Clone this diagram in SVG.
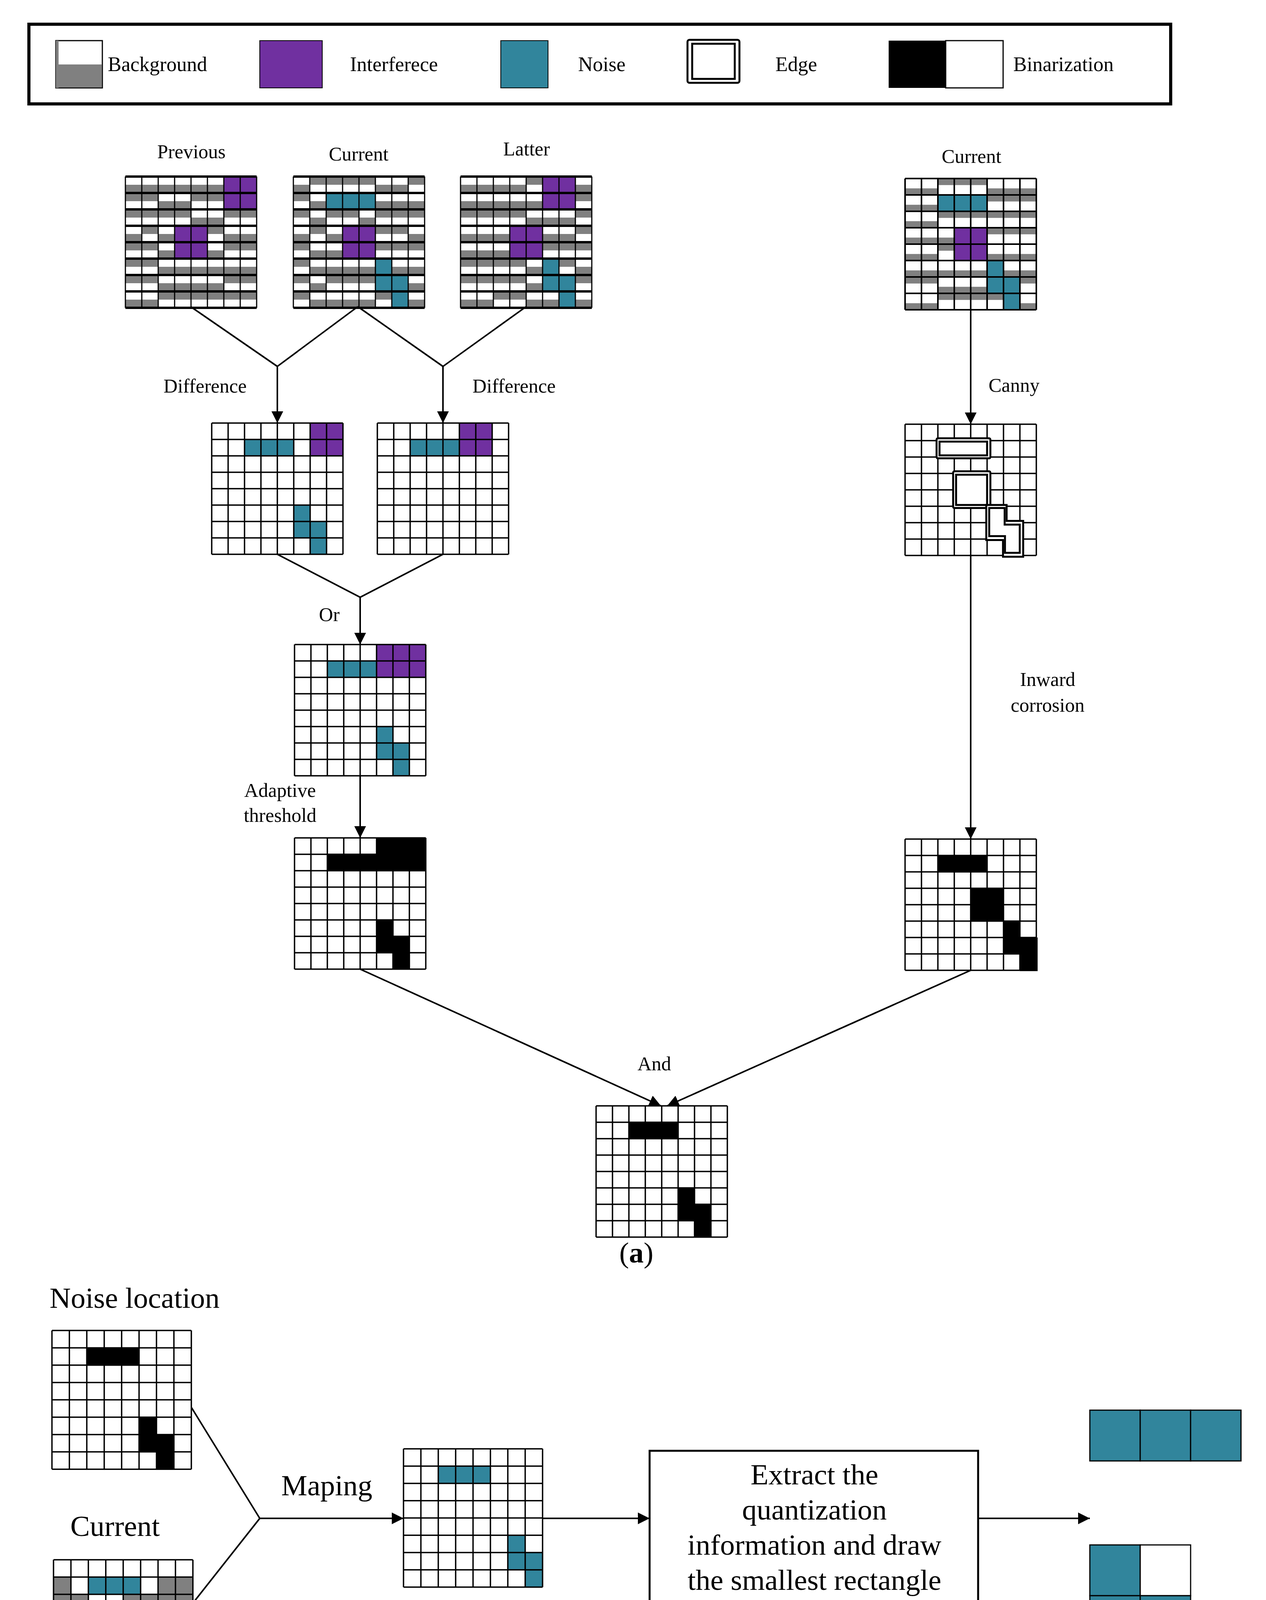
<svg xmlns="http://www.w3.org/2000/svg" xmlns:xlink="http://www.w3.org/1999/xlink" width="3241" height="4520" viewBox="0 0 3241 4520">
<style>
.g{fill:#808080}.p{fill:#7030A0}.n{fill:#31859C}.k{fill:#000}
.gl{fill:none;stroke:#000;vector-effect:non-scaling-stroke}
.ln{fill:none;stroke:#000;stroke-width:4}
.ar{marker-end:url(#ah)}
text{font-family:"Liberation Serif","DejaVu Serif",serif;fill:#000}
.t{font-size:50px;text-anchor:middle}
.lg{font-size:52px}
.b{font-size:75px}
.e{fill:#fff;stroke:#000;stroke-width:5;vector-effect:non-scaling-stroke}
</style>
<defs>
<marker id="ah" markerUnits="userSpaceOnUse" markerWidth="30" markerHeight="30" refX="30" refY="15" orient="auto"><path d="M0,0L30,15L0,30z" fill="#000"/></marker>
<path id="gv" class="gl" d="M0 0V8M1 0V8M2 0V8M3 0V8M4 0V8M5 0V8M6 0V8M7 0V8M8 0V8"/>
<path id="gh" class="gl" d="M0 0H8M0 1H8M0 2H8M0 3H8M0 4H8M0 5H8M0 6H8M0 7H8M0 8H8"/>
</defs>
<rect width="3241" height="4520" fill="#fff"/>

<g id="legend">
<rect x="74" y="62" width="2923" height="204" fill="none" stroke="#000" stroke-width="8"/>
<rect x="143" y="104" width="119" height="121" fill="#fff" stroke="#000" stroke-width="3"/>
<rect x="145" y="165" width="116" height="59" class="g"/>
<rect x="143" y="104" width="7" height="121" class="g"/>
<text x="276" y="182" class="lg">Background</text>
<rect x="665" y="104" width="160" height="121" class="p" stroke="#000" stroke-width="2"/>
<text x="896" y="182" class="lg">Interferece</text>
<rect x="1282" y="104" width="121" height="121" class="n" stroke="#000" stroke-width="2"/>
<text x="1480" y="182" class="lg">Noise</text>
<rect x="1760" y="102" width="133" height="110" rx="5" fill="#fff" stroke="#000" stroke-width="5"/>
<rect x="1772" y="112" width="109" height="90" fill="#fff" stroke="#000" stroke-width="5"/>
<text x="1985" y="182" class="lg">Edge</text>
<rect x="2275" y="104" width="146" height="121" class="k"/>
<rect x="2421" y="104" width="147" height="121" fill="#fff" stroke="#000" stroke-width="3"/>
<text x="2594" y="182" class="lg">Binarization</text>
</g>

<g id="labels">
<text x="490" y="405" class="t">Previous</text>
<text x="918" y="411" class="t">Current</text>
<text x="1348" y="398" class="t">Latter</text>
<text x="2487" y="417" class="t">Current</text>
<text x="525" y="1005" class="t">Difference</text>
<text x="1316" y="1005" class="t">Difference</text>
<text x="2596" y="1003" class="t">Canny</text>
<text x="843" y="1590" class="t">Or</text>
<text x="717" y="2040" class="t">Adaptive</text>
<text x="717" y="2104" class="t">threshold</text>
<text x="2682" y="1756" class="t">Inward</text>
<text x="2682" y="1822" class="t">corrosion</text>
<text x="1675" y="2740" class="t">And</text>
<text x="1629" y="3232" class="b" text-anchor="middle">(<tspan font-weight="bold">a</tspan>)</text>
<text x="127" y="3348" class="b">Noise location</text>
<text x="180" y="3932" class="b">Current</text>
<text x="720" y="3828" class="b">Maping</text>
<text x="1629" y="4436" class="b" text-anchor="middle">(<tspan font-weight="bold">b</tspan>)</text>
</g>

<g id="previous" transform="translate(321,452) scale(42)">
<rect class="g" x="0" y="0.5" width="6" height="0.5"/>
<rect class="p" x="6" y="0" width="2" height="2"/>
<rect class="g" x="0" y="1" width="2" height="0.5"/><rect class="g" x="2" y="1.5" width="2" height="0.5"/><rect class="g" x="4" y="1" width="2" height="0.5"/>
<rect class="g" x="0" y="2" width="4" height="0.5"/><rect class="g" x="4" y="2.5" width="2" height="0.5"/><rect class="g" x="6" y="2" width="2" height="0.5"/>
<rect class="g" x="0" y="3.5" width="1" height="0.5"/><rect class="g" x="1" y="3" width="1" height="0.5"/><rect class="g" x="2" y="3.5" width="1" height="0.5"/><rect class="p" x="3" y="3" width="2" height="2"/><rect class="g" x="5" y="3" width="1" height="0.5"/><rect class="g" x="6" y="3.5" width="2" height="0.5"/>
<rect class="g" x="0" y="4" width="2" height="0.5"/><rect class="g" x="2" y="4.5" width="1" height="0.5"/><rect class="g" x="5" y="4.5" width="1" height="0.5"/><rect class="g" x="6" y="4" width="2" height="0.5"/>
<rect class="g" x="0" y="5" width="2" height="0.5"/><rect class="g" x="2" y="5.5" width="6" height="0.5"/>
<rect class="g" x="0" y="6" width="2" height="0.5"/><rect class="g" x="2" y="6.5" width="4" height="0.5"/><rect class="g" x="6" y="6" width="2" height="0.5"/>
<rect class="g" x="0" y="7.5" width="2" height="0.5"/><rect class="g" x="2" y="7" width="6" height="0.5"/>
<use href="#gv" stroke-width="3"/><use href="#gh" stroke-width="6"/>
</g>

<g id="current1" transform="translate(751,452) scale(42)">
<rect class="g" x="0" y="0.5" width="1" height="0.5"/><rect class="g" x="1" y="0" width="4" height="0.5"/><rect class="g" x="5" y="0.5" width="2" height="0.5"/><rect class="g" x="7" y="0" width="1" height="0.5"/>
<rect class="g" x="0" y="1" width="1" height="0.5"/><rect class="g" x="1" y="1.5" width="1" height="0.5"/><rect class="n" x="2" y="1" width="3" height="1"/><rect class="g" x="5" y="1.5" width="3" height="0.5"/>
<rect class="g" x="0" y="2" width="1" height="0.5"/><rect class="g" x="1" y="2.5" width="1" height="0.5"/><rect class="g" x="2" y="2" width="2" height="0.5"/><rect class="g" x="4" y="2.5" width="1" height="0.5"/><rect class="g" x="5" y="2" width="3" height="0.5"/>
<rect class="g" x="0" y="3.5" width="1" height="0.5"/><rect class="g" x="1" y="3" width="1" height="0.5"/><rect class="g" x="2" y="3.5" width="1" height="0.5"/><rect class="p" x="3" y="3" width="2" height="2"/><rect class="g" x="5" y="3" width="2" height="0.5"/><rect class="g" x="7" y="3.5" width="1" height="0.5"/>
<rect class="g" x="0" y="4" width="1" height="0.5"/><rect class="g" x="1" y="4.5" width="2" height="0.5"/><rect class="g" x="5" y="4" width="3" height="0.5"/>
<rect class="g" x="0" y="5" width="1" height="0.5"/><rect class="g" x="1" y="5.5" width="4" height="0.5"/><rect class="n" x="5" y="5" width="1" height="2"/><rect class="g" x="6" y="5.5" width="2" height="0.5"/>
<rect class="g" x="0" y="6" width="1" height="0.5"/><rect class="g" x="1" y="6.5" width="1" height="0.5"/><rect class="g" x="2" y="6" width="3" height="0.5"/><rect class="n" x="6" y="6" width="1" height="2"/><rect class="g" x="7" y="6.5" width="1" height="0.5"/>
<rect class="g" x="0" y="7" width="1" height="0.5"/><rect class="g" x="1" y="7.5" width="4" height="0.5"/><rect class="g" x="5" y="7" width="1" height="0.5"/><rect class="g" x="7" y="7.5" width="1" height="0.5"/>
<use href="#gv" stroke-width="3"/><use href="#gh" stroke-width="6"/>
</g>

<g id="latter" transform="translate(1179,452) scale(42)">
<rect class="g" x="0" y="0.5" width="4" height="0.5"/><rect class="g" x="4" y="0" width="1" height="0.5"/><rect class="p" x="5" y="0" width="2" height="2"/><rect class="g" x="7" y="0.5" width="1" height="0.5"/>
<rect class="g" x="0" y="1.5" width="5" height="0.5"/><rect class="g" x="7" y="1" width="1" height="0.5"/>
<rect class="g" x="0" y="2" width="4" height="0.5"/><rect class="g" x="4" y="2.5" width="3" height="0.5"/><rect class="g" x="7" y="2" width="1" height="0.5"/>
<rect class="g" x="0" y="3.5" width="3" height="0.5"/><rect class="p" x="3" y="3" width="2" height="2"/><rect class="g" x="5" y="3.5" width="2" height="0.5"/><rect class="g" x="7" y="3" width="1" height="0.5"/>
<rect class="g" x="0" y="4.5" width="3" height="0.5"/><rect class="g" x="5" y="4" width="3" height="0.5"/>
<rect class="g" x="0" y="5" width="4" height="0.5"/><rect class="g" x="4" y="5.5" width="1" height="0.5"/><rect class="n" x="5" y="5" width="1" height="2"/><rect class="g" x="6" y="5" width="1" height="0.5"/><rect class="g" x="7" y="5.5" width="1" height="0.5"/>
<rect class="g" x="0" y="6" width="4" height="0.5"/><rect class="g" x="4" y="6.5" width="1" height="0.5"/><rect class="n" x="6" y="6" width="1" height="2"/><rect class="g" x="7" y="6" width="1" height="0.5"/>
<rect class="g" x="0" y="7.5" width="2" height="0.5"/><rect class="g" x="2" y="7" width="2" height="0.5"/><rect class="g" x="4" y="7.5" width="2" height="0.5"/><rect class="g" x="7" y="7.5" width="1" height="0.5"/>
<use href="#gv" stroke-width="3"/><use href="#gh" stroke-width="6"/>
</g>

<g id="current-right" transform="translate(2317,457) scale(42)">
<rect class="g" x="0" y="0.6" width="2" height="0.4"/><rect class="g" x="2" y="0" width="3" height="0.4"/><rect class="g" x="5" y="0.6" width="3" height="0.4"/>
<rect class="g" x="0" y="1.6" width="2" height="0.4"/><rect class="n" x="2" y="1" width="3" height="1"/><rect class="g" x="5" y="1" width="3" height="0.4"/>
<rect class="g" x="0" y="2.6" width="2" height="0.4"/><rect class="g" x="2" y="2" width="6" height="0.4"/>
<rect class="g" x="0" y="3.6" width="3" height="0.4"/><rect class="p" x="3" y="3" width="2" height="2"/><rect class="g" x="5" y="3" width="3" height="0.4"/>
<rect class="g" x="0" y="4.6" width="2" height="0.4"/><rect class="g" x="2" y="4" width="1" height="0.4"/><rect class="g" x="5" y="4.6" width="3" height="0.4"/>
<rect class="g" x="0" y="5.6" width="5" height="0.4"/><rect class="n" x="5" y="5" width="1" height="2"/><rect class="g" x="6" y="5.6" width="2" height="0.4"/>
<rect class="g" x="0" y="6" width="2" height="0.4"/><rect class="g" x="2" y="6.6" width="3" height="0.4"/><rect class="n" x="6" y="6" width="1" height="2"/><rect class="g" x="7" y="6" width="1" height="0.4"/>
<rect class="g" x="0" y="7.6" width="2" height="0.4"/><rect class="g" x="2" y="7" width="4" height="0.4"/><rect class="g" x="7" y="7.6" width="1" height="0.4"/>
<use href="#gv" stroke-width="4"/><use href="#gh" stroke-width="4"/>
</g>

<g id="diff1" transform="translate(542,1083) scale(42)">
<rect class="p" x="6" y="0" width="2" height="2"/><rect class="n" x="2" y="1" width="3" height="1"/>
<rect class="n" x="5" y="5" width="1" height="2"/><rect class="n" x="6" y="6" width="1" height="2"/>
<use href="#gv" stroke-width="3.5"/><use href="#gh" stroke-width="3.5"/>
</g>
<g id="diff2" transform="translate(966,1083) scale(42)">
<rect class="p" x="5" y="0" width="2" height="2"/><rect class="n" x="2" y="1" width="3" height="1"/>
<use href="#gv" stroke-width="3.5"/><use href="#gh" stroke-width="3.5"/>
</g>
<g id="or" transform="translate(754,1650) scale(42)">
<rect class="p" x="5" y="0" width="3" height="2"/><rect class="n" x="2" y="1" width="3" height="1"/>
<rect class="n" x="5" y="5" width="1" height="2"/><rect class="n" x="6" y="6" width="1" height="2"/>
<use href="#gv" stroke-width="3.5"/><use href="#gh" stroke-width="3.5"/>
</g>
<g id="threshold" transform="translate(754,2145) scale(42)">
<rect class="k" x="5" y="0" width="3" height="2"/><rect class="k" x="2" y="1" width="3" height="1"/>
<rect class="k" x="5" y="5" width="1" height="2"/><rect class="k" x="6" y="6" width="1" height="2"/>
<use href="#gv" stroke-width="3.5"/><use href="#gh" stroke-width="3.5"/>
</g>
<g id="canny" transform="translate(2317,1086) scale(42)">
<use href="#gv" stroke-width="3.5"/><use href="#gh" stroke-width="3.5"/>
<rect class="e" x="1.92" y="0.86" width="3.28" height="1.22" rx="0.08"/>
<rect class="e" x="2.1" y="1.06" width="2.9" height="0.84"/>
<rect class="e" x="2.93" y="2.87" width="2.27" height="2.24" rx="0.08"/>
<rect class="e" x="3.11" y="3.08" width="1.89" height="1.84"/>
<path class="e" d="M4.95 4.92H6.19V5.89H7.2V8.08H5.97V7.06H4.95Z"/>
<path class="e" d="M5.13 5.11H6.07V6.12H6.99V7.84H6.09V6.82H5.13Z"/>
</g>
<g id="inward" transform="translate(2317,2148) scale(42)">
<rect class="k" x="2" y="1" width="3" height="1"/><rect class="k" x="4" y="3" width="2" height="2"/>
<rect class="k" x="6" y="5" width="1" height="2"/><rect class="k" x="7" y="6" width="1.08" height="2.05"/>
<use href="#gv" stroke-width="3.5"/><use href="#gh" stroke-width="3.5"/>
</g>
<g id="and" transform="translate(1526,2831) scale(42)">
<rect class="k" x="2" y="1" width="3" height="1"/>
<rect class="k" x="5" y="5" width="1" height="2"/><rect class="k" x="6" y="6" width="1" height="2"/>
<use href="#gv" stroke-width="3.5"/><use href="#gh" stroke-width="3.5"/>
</g>

<g id="noise-location" transform="translate(133,3406) scale(44.6,44.4)">
<rect class="k" x="2" y="1" width="3" height="1"/>
<rect class="k" x="5" y="5" width="1" height="2"/><rect class="k" x="6" y="6" width="1" height="2"/>
<use href="#gv" stroke-width="3.5"/><use href="#gh" stroke-width="3.5"/>
</g>
<g id="current-b" transform="translate(137,3993) scale(44.6,44.3)">
<rect class="g" x="0" y="1" width="1" height="1"/><rect class="n" x="2" y="1" width="3" height="1"/><rect class="g" x="6" y="1" width="2" height="1"/>
<rect class="g" x="0" y="2" width="2" height="1"/><rect class="g" x="4" y="2" width="4" height="1"/>
<rect class="g" x="2" y="3" width="1" height="1"/><rect class="p" x="3" y="3" width="2" height="2"/><rect class="g" x="5" y="3" width="3" height="2"/>
<rect class="g" x="1" y="4" width="2" height="1"/>
<rect class="n" x="5" y="5" width="1" height="2"/><rect class="g" x="6" y="5" width="2" height="1"/>
<rect class="g" x="0" y="6" width="4" height="1"/><rect class="n" x="6" y="6" width="1" height="2"/>
<rect class="g" x="0" y="7" width="6" height="1"/>
<use href="#gv" stroke-width="3.5"/><use href="#gh" stroke-width="3.5"/>
</g>
<g id="mapped" transform="translate(1033,3709) scale(44.5,44.25)">
<rect class="n" x="2" y="1" width="3" height="1"/>
<rect class="n" x="6" y="5" width="1" height="2"/><rect class="n" x="7" y="6" width="1" height="2"/>
<use href="#gv" stroke-width="3.5"/><use href="#gh" stroke-width="3.5"/>
</g>

<g id="extract-box">
<rect x="1663" y="3714" width="841" height="391" fill="#fff" stroke="#000" stroke-width="5"/>
<text x="2085" y="3800" class="b" text-anchor="middle">Extract the</text>
<text x="2085" y="3890" class="b" text-anchor="middle">quantization</text>
<text x="2085" y="3980" class="b" text-anchor="middle">information and draw</text>
<text x="2085" y="4070" class="b" text-anchor="middle">the smallest rectangle</text>
</g>

<g id="output-bar" stroke="#000" stroke-width="3">
<rect class="n" x="2790" y="3610" width="129" height="130"/>
<rect class="n" x="2919" y="3610" width="129" height="130"/>
<rect class="n" x="3048" y="3610" width="129" height="130"/>
</g>
<g id="output-shape" stroke="#000" stroke-width="3">
<rect class="n" x="2790" y="3955" width="129" height="130"/><rect fill="#fff" x="2919" y="3955" width="129" height="130"/>
<rect class="n" x="2790" y="4085" width="129" height="130"/><rect class="n" x="2919" y="4085" width="129" height="130"/>
<rect fill="#fff" x="2790" y="4215" width="129" height="130"/><rect class="n" x="2919" y="4215" width="129" height="130"/>
</g>

<g id="connectors">
<path class="ln" d="M488 785L710 938M916 785L710 938M916 785L1134 938M1347 785L1134 938"/>
<path class="ln ar" d="M710 938V1083"/>
<path class="ln ar" d="M1134 938V1083"/>
<path class="ln" d="M710 1419L922 1529M1134 1419L922 1529"/>
<path class="ln ar" d="M922 1529V1650"/>
<path class="ln ar" d="M922 1986V2145"/>
<path class="ln ar" d="M922 2481L1692 2831"/>
<path class="ln ar" d="M2485 2484L1708 2831"/>
<path class="ln ar" d="M2485 793V1086"/>
<path class="ln ar" d="M2485 1422V2148"/>
<path class="ln" d="M490 3603L665 3887L493 4105"/>
<path class="ln ar" d="M665 3887H1033"/>
<path class="ln ar" d="M1389 3887H1663"/>
<path class="ln ar" d="M2504 3887H2790"/>
</g>
</svg>
